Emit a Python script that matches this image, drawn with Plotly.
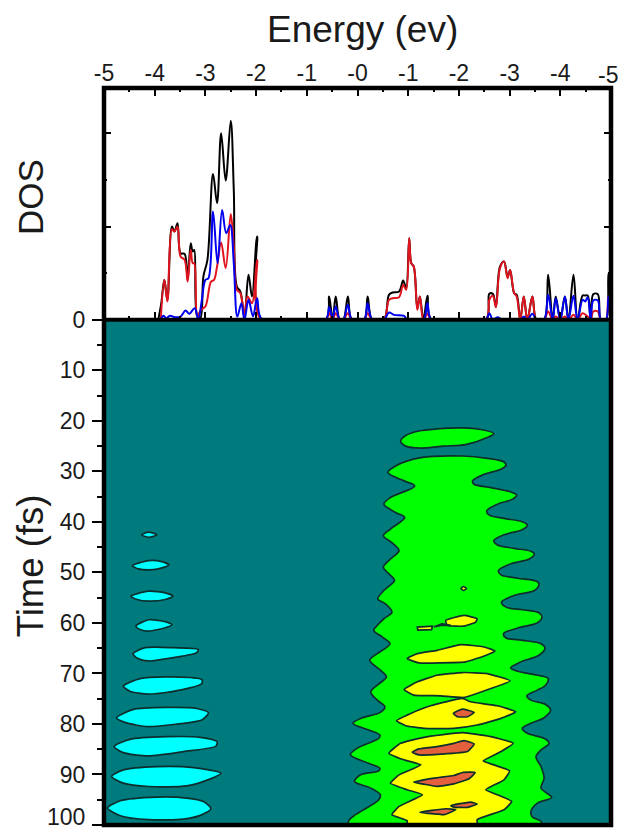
import plotly.graph_objects as go
from plotly.subplots import make_subplots

TICK_POS = list(range(11))
# the last label on each axis is placed separately so that it stays inside the window
TICK_TEXT = ['-5', '-4', '-3', '-2', '-1', '-0', '-1', '-2', '-3', '-4', '']
LAST_ENERGY_LABEL = '-5'
TIME_TICKS = list(range(0, 101, 10))
TIME_TEXT = [str(t) for t in TIME_TICKS[:-1]] + ['']
LAST_TIME_LABEL = '100'

# DOS curves (arbitrary DOS units; x axis position 0..10 = labelled energy scale)
BLACK_X = [1.07,1.13,1.19,1.25,1.34,1.39,1.45,1.51,1.59,1.65,1.71,1.75,1.78,1.84,1.90,1.96,2.04,2.15,2.23,2.31,2.40,2.50,2.56,2.62,2.69,2.77,2.85,2.92,3.02,3.12,
           4.37,4.44,4.51,4.57,4.65,
           4.72,4.81,4.89,5.13,5.20,5.29,5.52,5.62,5.69,5.82,5.90,5.96,6.02,6.06,6.11,6.18,6.23,6.30,6.38,6.46,
           7.53,7.60,7.67,7.73,7.81,7.89,7.96,8.01,8.09,8.14,8.21,8.28,8.35,8.45,8.53,8.68,8.76,8.85,8.91,9.00,9.09,9.16,9.26,9.34,9.44,9.49,9.54,9.60,9.65,9.74,9.80,9.90,9.95,10.0]
BLACK_Y = [0,50,120,60,280,265,290,200,198,120,230,205,210,10,5,130,180,438,350,560,418,598,390,100,85,10,135,70,250,0,
           0,70,0,70,0,
           0,70,0,0,70,0,0,75,82,85,118,95,245,170,160,35,70,0,72,0,
           0,78,78,40,160,175,130,150,80,75,0,70,0,70,0,0,135,0,70,0,70,0,135,0,73,73,73,0,77,77,0,0,140,90]
RED_X = [1.12,1.19,1.25,1.34,1.39,1.45,1.51,1.59,1.65,1.71,1.75,1.78,1.84,1.91,2.00,2.11,2.17,2.23,2.31,2.40,2.50,2.56,2.62,2.69,2.77,2.83,2.92,3.02,3.10,
         4.37,4.44,4.51,4.57,4.65,
         4.72,4.81,4.89,5.13,5.20,5.29,5.52,5.62,5.69,5.82,5.90,5.96,6.02,6.06,6.11,6.18,6.23,6.30,6.38,6.46,
         7.53,7.60,7.67,7.73,7.81,7.89,7.96,8.01,8.09,8.14,8.21,8.28,8.35,8.45,8.53,8.68,8.76,8.85,8.91,9.00,9.09,9.16,9.26,9.34,9.44,9.54,9.60,9.65,9.74,9.80,9.90,9.95,10.0]
RED_Y = [0,120,55,272,265,280,190,180,115,210,170,170,10,30,40,115,120,160,232,155,318,220,90,80,10,70,50,180,0,
         0,20,0,20,0,
         0,20,0,0,20,0,0,60,65,68,105,90,245,170,160,30,70,0,18,0,
         0,60,72,38,155,175,125,150,80,70,0,70,0,70,0,0,25,0,10,0,10,0,15,0,20,10,0,25,25,0,0,70,50]
BLUE_X = [1.12,1.17,1.23,1.30,1.40,1.51,1.61,1.68,1.79,1.86,1.93,2.00,2.06,2.15,2.24,2.33,2.41,2.49,2.56,2.63,2.71,2.77,2.85,2.94,3.02,3.12,
          4.37,4.44,4.51,4.57,4.65,
          4.72,4.81,4.89,5.13,5.20,5.29,5.52,5.62,5.72,5.92,5.98,6.30,6.38,6.46,
          7.53,7.60,7.67,7.76,7.86,8.21,8.28,8.35,8.45,8.53,8.68,8.76,8.85,8.91,9.00,9.09,9.16,9.26,9.34,9.44,9.49,9.54,9.60,9.65,9.74,9.80,9.90,9.95,10.0]
BLUE_Y = [0,12,5,12,8,10,28,18,35,0,60,120,125,325,170,330,260,285,170,10,50,0,60,10,65,0,
          0,38,5,40,0,
          0,45,0,0,50,0,0,22,15,12,0,0,50,0,
          0,20,0,8,0,0,10,0,18,0,0,75,0,65,0,70,0,72,0,60,55,68,0,58,58,0,0,70,0]

# Contour regions: energy position, time (fs)
GREEN_TOP_X = [5.85,5.95,6.21,6.57,7.07,7.43,7.69,7.56,7.13,6.71,6.25,5.95]
GREEN_TOP_T = [24.0,22.9,22.0,21.6,21.4,21.7,22.5,23.3,24.7,25.0,25.4,25.0]
GREEN_MAIN_X = [6.25,7.07,7.56,7.89,7.93,7.83,7.50,7.27,7.30,7.63,8.02,8.14,8.06,7.76,7.55,7.60,7.89,8.25,8.35,8.25,7.89,7.69,7.76,8.09,8.42,8.49,8.39,8.02,7.78,7.83,8.16,8.55,8.58,8.49,8.09,7.84,7.93,8.25,8.58,8.64,
                8.55,8.16,7.88,7.93,8.25,8.62,8.70,8.58,8.22,8.02,8.16,8.55,8.76,8.71,8.55,8.34,8.42,8.71,8.81,8.68,8.42,8.25,8.35,8.68,8.78,8.62,8.52,8.62,8.68,8.62,8.83,8.55,8.42,8.45,8.62,8.62,
                4.83,4.83,4.96,5.42,5.45,5.26,4.94,5.06,5.42,5.44,5.22,4.86,4.99,5.42,5.44,5.22,4.91,5.06,5.45,5.54,5.39,5.26,5.39,5.57,5.45,5.24,5.39,5.64,5.49,5.32,5.42,5.52,5.68,5.55,5.40,5.52,5.73,5.62,5.51,5.65,5.82,5.69,5.51,5.65,5.93,5.75,5.52,5.65,6.13,5.92,5.60,5.75]
GREEN_MAIN_T = [27.28,26.95,27.41,28.14,28.79,29.58,30.57,31.88,32.54,33.2,34.05,34.71,35.5,36.49,37.8,38.66,39.31,39.97,40.63,41.55,42.54,43.72,44.57,45.23,45.82,46.35,47.34,48.32,49.64,50.49,51.15,51.81,52.4,53.58,54.57,55.88,56.87,57.39,57.99,58.84,
                59.96,61.01,62.13,62.98,63.44,64.1,64.96,66.4,67.72,68.9,69.56,70.35,71.0,72.32,73.3,74.42,75.28,76.13,77.25,78.76,79.88,80.87,81.85,82.84,83.83,85.14,86.46,88.43,90.73,92.7,94.54,95.66,97.3,98.42,99.28,100,
                100,99.08,97.96,95.0,94.02,92.7,91.39,90.07,89.28,88.76,87.77,86.13,84.81,82.84,82.18,81.2,79.88,78.9,77.71,76.59,75.28,73.64,72.32,70.68,69.36,67.39,66.07,64.1,62.79,61.47,60.16,59.17,57.86,56.21,55.23,53.58,51.61,50.29,48.98,47.34,45.69,44.18,42.73,41.42,39.12,38.13,36.49,35.17,32.87,31.88,30.24,28.93]

YELLOW_DOT_X = [7.04,7.09,7.15,7.09]
YELLOW_DOT_T = [53.19,52.79,53.19,53.58]
YELLOW_BAR_X = [6.18,6.48,6.46,6.19]
YELLOW_BAR_T = [60.81,60.62,61.34,61.4]
YELLOW_0_X = [6.74,7.10,7.36,7.33,7.10,6.77]
YELLOW_0_T = [59.5,58.51,59.17,59.83,60.62,60.49]
YELLOW_1_X = [5.98,6.18,6.57,7.04,7.50,7.71,7.50,7.13,6.64,6.21]
YELLOW_1_T = [67.06,66.07,65.42,64.3,64.76,65.55,66.53,67.72,67.91,67.91]
YELLOW_2_X = [5.92,6.18,6.57,7.07,7.56,8.01,7.63,7.10,6.64,6.11]
YELLOW_2_T = [73.17,71.66,70.35,69.82,70.02,71.47,72.98,74.75,74.42,74.29]
YELLOW_3_X = [5.77,6.05,6.44,7.07,7.23,7.76,8.12,7.83,7.36,6.90,6.31,5.95]
YELLOW_3_T = [79.36,77.91,76.4,74.95,75.61,76.4,77.58,78.9,80.21,80.87,80.87,80.34]
YELLOW_4_X = [5.62,5.85,6.31,7.07,7.63,8.07,7.83,7.48,7.69,8.00,7.89,7.53,7.76,8.04,7.89,7.36,7.36,5.98,5.98,5.68,5.82,6.28,5.98,5.65,5.82,6.25,5.92]
YELLOW_4_T = [85.8,83.83,82.64,81.72,82.51,83.83,85.47,87.31,88.1,89.28,91.06,93.03,94.02,95.33,96.98,98.95,100,100,99.15,97.96,96.32,94.02,93.03,91.72,90.07,88.1,87.11]

DARK_SLIVER_X = [6.51,6.67,6.84,6.64]
DARK_SLIVER_T = [60.81,60.16,60.49,60.49]

RED_1_X = [6.89,7.07,7.30,7.17,6.97]
RED_1_T = [77.91,77.05,77.71,78.57,78.57]
RED_2_X = [6.08,6.21,6.57,6.90,7.10,7.30,7.17,6.64,6.21]
RED_2_T = [85.6,84.94,84.48,83.83,83.3,83.96,85.47,85.99,86.13]
RED_3_X = [6.11,6.51,6.90,7.07,7.32,7.20,6.90,6.57,6.31]
RED_3_T = [91.52,90.73,90.2,89.61,89.61,90.86,91.85,92.37,91.91]
RED_4_X = [6.84,7.23,7.36,7.17,6.90]
RED_4_T = [96.19,95.46,95.86,96.52,96.45]
RED_5_X = [6.23,6.74,6.94,6.71,6.57]
RED_5_T = [97.5,96.78,96.98,97.96,97.83]

CYAN_1_X = [0.74,0.88,1.04,0.88]
CYAN_1_T = [42.54,42.01,42.54,43.07]
CYAN_2_X = [0.56,0.88,1.14,1.28,1.07,0.88,0.68]
CYAN_2_T = [48.66,47.67,47.87,48.52,49.31,49.51,49.31]
CYAN_3_X = [0.53,0.88,1.21,1.36,1.21,0.88,0.65]
CYAN_3_T = [54.7,53.72,54.05,54.7,55.36,55.69,55.36]
CYAN_4_X = [0.63,0.88,1.24,1.34,1.21,0.88,0.71]
CYAN_4_T = [60.62,59.37,59.83,60.36,60.95,61.61,61.28]
CYAN_5_X = [0.57,0.81,1.37,1.86,1.83,1.37,0.88,0.65]
CYAN_5_T = [66.08,64.9,64.9,65.22,65.88,66.87,67.53,66.93]
CYAN_6_X = [0.38,0.71,1.37,1.93,1.93,1.50,0.88,0.51]
CYAN_6_T = [72.52,71.01,70.68,71.21,71.99,73.31,74.1,73.51]
CYAN_7_X = [0.25,0.58,1.24,1.83,2.06,1.93,1.44,0.88,0.41]
CYAN_7_T = [78.77,77.12,76.73,76.93,77.78,79.23,80.02,80.54,79.69]
CYAN_8_X = [0.20,0.51,1.24,1.90,2.23,2.21,1.57,0.88,0.38]
CYAN_8_T = [84.49,83.04,82.52,82.65,83.5,84.36,85.48,86.33,85.67]
CYAN_9_X = [0.15,0.38,1.04,1.77,2.31,2.10,1.63,0.88,0.38]
CYAN_9_T = [90.41,89.09,88.43,88.63,89.75,90.87,92.25,92.38,91.72]
CYAN_10_X = [0.07,0.32,1.04,1.63,1.96,2.11,1.90,1.57,0.88,0.32]
CYAN_10_T = [96.65,95.21,94.48,94.68,95.34,96.78,98.1,98.82,98.95,98.16]

TEAL, GREEN, YELLOW, ORANGE, CYAN = '#007B7D', '#00FF00', '#FFFF00', '#E4603C', '#00FFFF'
OUTLINE = '#0E2E2E'
FONT = 'Liberation Sans'

W, H = 619, 832
L, R, T, B = 104, 8, 88, 6.5
SPLIT = (H - B - 320) / (H - T - B)

fig = make_subplots(rows=2, cols=1, vertical_spacing=0)


def region(x, t, color, smooth=0.9):
    fig.add_trace(go.Scatter(
        x=x + x[:1], y=t + t[:1], mode='lines', fill='toself', fillcolor=color,
        line=dict(color=OUTLINE, width=1.7, shape='spline', smoothing=smooth),
        hoverinfo='skip', showlegend=False), row=2, col=1)


for xs, ys, c in [(BLACK_X, BLACK_Y, '#000000'), (RED_X, RED_Y, '#E0141E'), (BLUE_X, BLUE_Y, '#0000F0')]:
    fig.add_trace(go.Scatter(x=xs, y=ys, mode='lines', showlegend=False,
                             line=dict(color=c, width=2, shape='spline', smoothing=1.0)), row=1, col=1)

region(GREEN_TOP_X, GREEN_TOP_T, GREEN)
region(GREEN_MAIN_X, GREEN_MAIN_T, GREEN)
for x, t in [(YELLOW_DOT_X, YELLOW_DOT_T), (YELLOW_0_X, YELLOW_0_T), (YELLOW_1_X, YELLOW_1_T),
             (YELLOW_2_X, YELLOW_2_T), (YELLOW_3_X, YELLOW_3_T), (YELLOW_4_X, YELLOW_4_T)]:
    region(x, t, YELLOW, 0.4)
region(YELLOW_BAR_X, YELLOW_BAR_T, YELLOW, 0)
region(DARK_SLIVER_X, DARK_SLIVER_T, OUTLINE, 0)
for x, t in [(RED_1_X, RED_1_T), (RED_2_X, RED_2_T), (RED_3_X, RED_3_T), (RED_4_X, RED_4_T), (RED_5_X, RED_5_T)]:
    region(x, t, ORANGE, 0.4)
for x, t in [(CYAN_1_X, CYAN_1_T), (CYAN_2_X, CYAN_2_T), (CYAN_3_X, CYAN_3_T), (CYAN_4_X, CYAN_4_T),
             (CYAN_5_X, CYAN_5_T), (CYAN_6_X, CYAN_6_T), (CYAN_7_X, CYAN_7_T), (CYAN_8_X, CYAN_8_T),
             (CYAN_9_X, CYAN_9_T), (CYAN_10_X, CYAN_10_T)]:
    region(x, t, CYAN, 0.7)

TEXT_COLOR = '#1a1a1a'
tick_font = dict(family=FONT, size=23, color=TEXT_COLOR)

fig.update_layout(
    width=W, height=H, autosize=False, showlegend=False,
    margin=dict(l=L, r=R, t=T, b=B), paper_bgcolor='white', plot_bgcolor='white',
    xaxis=dict(domain=[0, 1], range=[0, 10], side='top', anchor='y', showgrid=False, zeroline=False,
               tickmode='array', tickvals=TICK_POS, ticktext=TICK_TEXT, tickfont=tick_font,
               ticklabelstandoff=-3,
               ticks='inside', ticklen=8, tickwidth=1.5, tickcolor='#000000',
               showline=True, linewidth=1, linecolor='#000000', mirror='allticks',
               minor=dict(tickmode='array', tickvals=[i + 0.5 for i in range(10)], ticks='inside',
                          ticklen=4, tickwidth=1.5, tickcolor='#000000')),
    yaxis=dict(domain=[SPLIT, 1], range=[0, 696], anchor='x', showgrid=False, zeroline=False,
               tickmode='array', tickvals=[280, 560], ticktext=['', ''],
               ticks='inside', ticklen=7, tickwidth=1.5, tickcolor='#000000',
               showline=True, linewidth=1, linecolor='#000000', mirror='allticks',
               minor=dict(tickmode='array', tickvals=[140, 420], ticks='inside',
                          ticklen=3, tickwidth=1.5, tickcolor='#000000')),
    xaxis2=dict(domain=[0, 1], range=[0, 10], anchor='y2', showgrid=False, zeroline=False,
                showticklabels=False, ticks=''),
    yaxis2=dict(domain=[0, SPLIT], range=[100, 0], anchor='x2', showgrid=False, zeroline=False,
                tickmode='array', tickvals=TIME_TICKS, ticktext=TIME_TEXT, tickfont=tick_font,
                ticklabelstandoff=2,
                ticks='outside', ticklen=11, tickwidth=2, tickcolor='#000000',
                minor=dict(tickmode='array', tickvals=list(range(5, 100, 10)), ticks='outside',
                           ticklen=6, tickwidth=2, tickcolor='#000000')),
)


def px_x(px):
    return (px - L) / (W - L - R)


def px_y(py):
    return 1 - (py - T) / (H - T - B)


def label(text, x, y, size, angle=0, anchor='center'):
    fig.add_annotation(text=text, xref='paper', yref='paper', x=px_x(x), y=px_y(y), showarrow=False, textangle=angle,
                       xanchor=anchor, yanchor='middle', font=dict(family=FONT, size=size, color=TEXT_COLOR))


label('Energy (ev)', 362.5, 29, 37)
label('DOS', 30.5, 197.5, 35, angle=-90)
label('Time (fs)', 30.5, 566, 36.5, angle=-90)
label(LAST_ENERGY_LABEL, 608, 75, 23)
label(LAST_TIME_LABEL, 87, 817, 23, anchor='right')

fig.add_shape(type='rect', xref='paper', yref='paper', x0=0, x1=1, y0=SPLIT, y1=0, layer='below',
              line_width=0, fillcolor=TEAL)
fig.add_shape(type='rect', xref='paper', yref='paper', x0=0, x1=1, y0=0, y1=1, layer='above',
              line=dict(color='#000000', width=4.5), fillcolor='rgba(0,0,0,0)')
fig.add_shape(type='line', xref='paper', yref='paper', x0=0, x1=1, y0=SPLIT, y1=SPLIT, layer='above',
              line=dict(color='#000000', width=4))

fig.write_html("out.html", config=dict(displayModeBar=False),
               post_script="document.body.style.margin='0';document.body.style.overflow='hidden';document.documentElement.style.overflow='hidden';")
